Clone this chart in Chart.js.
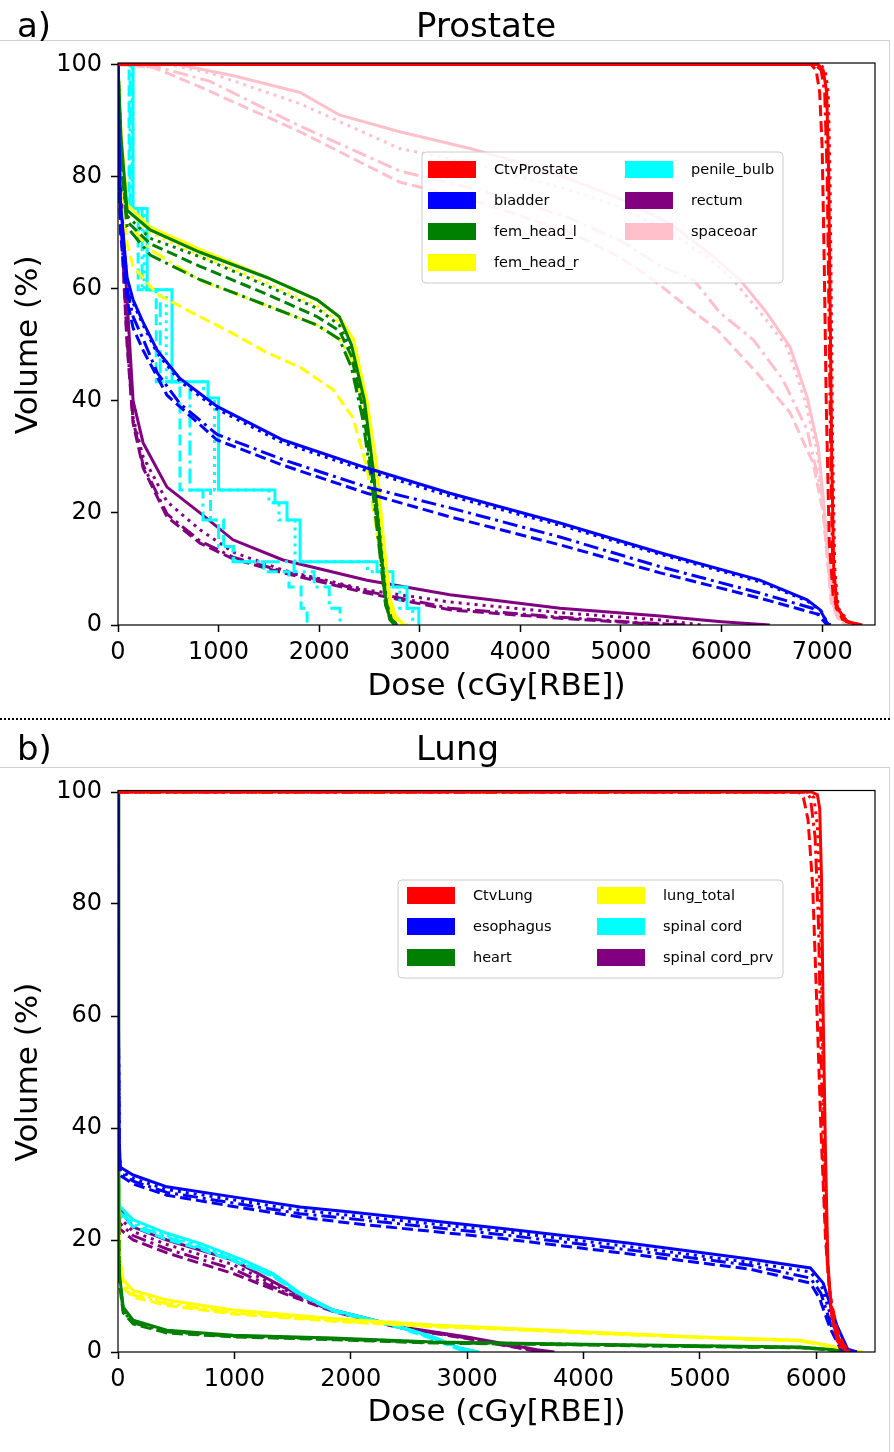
<!DOCTYPE html>
<html>
<head>
<meta charset="utf-8">
<script src="https://cdn.jsdelivr.net/npm/chart.js@4.4.1/dist/chart.umd.min.js"></script>
<style>
  html, body { margin: 0; padding: 0; background: #fff; }
  body { width: 894px; height: 1452px; position: relative; overflow: hidden; }
  canvas { position: absolute; left: 0; }
  #prostateChart { top: 0; }
  #lungChart { top: 718px; }
  .rule { position: absolute; background: #d2d2d2; }
  #sep { position: absolute; left: 0; top: 718px; width: 890px; height: 2px;
         background: repeating-linear-gradient(to right, #000 0 2px, transparent 2px 4px); }
</style>
</head>
<body>
<div class="rule" style="left:0;top:40px;width:889px;height:1px"></div>
<div class="rule" style="left:889px;top:40px;width:1px;height:678px"></div>
<div class="rule" style="left:0;top:767px;width:889px;height:1px"></div>
<div class="rule" style="left:889px;top:767px;width:1px;height:685px"></div>
<div id="sep"></div>
<canvas id="prostateChart" width="894" height="718"></canvas>
<canvas id="lungChart" width="894" height="734"></canvas>
<script>
// DVH curves: [dose cGy, volume %], four variants per structure
const lineStyles = ['solid', 'dotted', 'dashed', 'dashdot'];

// ---- Prostate ----
const prostateNames = ['CtvProstate', 'bladder', 'fem_head_l', 'fem_head_r', 'penile_bulb', 'rectum', 'spaceoar'];
const prostateColors = ['#ff0000', '#0000ff', '#008000', '#ffff00', '#00ffff', '#800080', '#ffc0cb'];
const prostateDoseTicks = [0, 1000, 2000, 3000, 4000, 5000, 6000, 7000];
const volumeTicks = [0, 20, 40, 60, 80, 100];

const prostateCtv = [
  [[0,100],[6960,100],[7010,99],[7045,95],[7065,80],[7080,55],[7095,30],[7115,10],[7150,3],[7250,0.6],[7400,0]],
  [[0,100],[6980,100],[7030,99],[7060,95],[7078,80],[7092,55],[7105,30],[7125,10],[7160,3],[7260,0.6],[7380,0]],
  [[0,100],[6890,100],[6940,99],[6975,95],[7000,85],[7020,65],[7040,40],[7070,15],[7110,5],[7200,1],[7350,0]],
  [[0,100],[6930,100],[6990,99],[7025,95],[7050,80],[7068,55],[7085,30],[7105,10],[7140,3],[7240,0.6],[7360,0]]
];
const prostateBladder = [
  [[0,100],[10,85],[25,75],[90,62],[150,58],[250,54],[390,49],[615,44],[985,39],[1640,33],[2475,28],[3300,23.5],[4394,18.2],[5390,12.9],[6380,8],[6850,4.5],[6980,2.7],[7030,1],[7060,0]],
  [[0,100],[10,84],[25,74],[90,61.5],[150,57.5],[250,53.5],[390,48.5],[615,43.5],[985,38.5],[1640,32.5],[2475,27.5],[3300,23],[4394,17.8],[5390,12.6],[6380,7.7],[6850,4.3],[6990,2.5],[7040,0.8],[7080,0]],
  [[0,100],[10,82],[25,70],[90,58],[150,53],[250,49],[487,41],[985,33],[1640,28.5],[2475,23.5],[3300,19.3],[4394,14.3],[5390,9.3],[6380,4.8],[6980,1.8],[7050,0.3],[7080,0]],
  [[0,100],[10,83],[25,72],[90,60],[150,55],[250,51],[390,45],[615,39.5],[985,34],[1640,29.5],[2475,24.6],[3300,20.9],[4394,15.7],[5390,10.4],[6380,5.7],[6900,3],[7000,1],[7050,0]]
];
const prostateFemL = [
  [[0,100],[30,87],[90,74],[320,70.5],[815,66.5],[1480,62],[1980,58],[2200,55],[2320,50],[2450,40],[2535,28],[2600,16],[2660,5],[2700,1],[2750,0]],
  [[0,100],[30,85],[90,73],[320,69],[815,65.7],[1480,60.5],[1980,56.5],[2200,53.5],[2320,49],[2450,39],[2540,27],[2610,15],[2670,4],[2720,1],[2780,0]],
  [[0,100],[30,84],[90,72],[320,68],[815,64],[1480,59],[1980,55],[2200,52.5],[2320,48],[2440,38],[2530,26],[2600,14],[2660,4],[2720,1],[2780,0]],
  [[0,100],[30,83],[90,71],[320,66],[815,61.6],[1480,57],[1980,53.5],[2200,51],[2320,46],[2430,37],[2525,25],[2595,14],[2660,3.5],[2720,0.5],[2780,0]]
];
const prostateFemR = [
  [[0,100],[30,88],[90,75],[320,71],[815,67],[1480,62],[1980,58],[2200,55],[2340,51],[2475,40],[2575,28],[2635,16],[2700,5],[2760,1.5],[2850,0]],
  [[0,100],[30,86],[90,74],[320,70],[815,66],[1480,61],[1980,57],[2200,54],[2340,50],[2470,40],[2570,28],[2630,16],[2700,5],[2770,1],[2880,0]],
  [[0,100],[30,80],[90,68],[150,64],[390,59],[815,55],[1143,52],[1480,48.6],[1810,46],[2137,42],[2336,37],[2475,28],[2575,16.4],[2674,4.5],[2750,0.8],[2850,0]],
  [[0,100],[30,84],[90,72],[320,67],[815,61.5],[1480,57],[1980,53.5],[2200,51],[2340,47],[2450,38],[2560,26],[2620,15],[2690,4],[2760,1],[2850,0]]
];
// penile bulb is a stepped DVH: [dose where volume drops, new volume]
const prostatePenile = [
  [[0,100],[150,74.3],[290,59.8],[537,43.4],[895,40.5],[1000,24.1],[1560,21.8],[1680,18.75],[1810,11.3],[2575,9.5],[2733,6.8],[2873,3],[2990,0]],
  [[0,100],[140,74.3],[260,59.8],[480,43.4],[850,40.5],[960,24.1],[1500,21.8],[1600,18.75],[1760,11.3],[2480,9.5],[2650,6.8],[2800,3],[2930,0]],
  [[0,100],[110,74.3],[200,59.8],[380,43.4],[616,24.1],[920,18.75],[1050,14],[1143,11.3],[1450,9.5],[1700,6.8],[1820,3],[1880,0]],
  [[0,100],[120,74.3],[240,59.8],[420,43.4],[715,24.1],[845,18.75],[1000,14],[1150,11.3],[1750,9.5],[1950,6.8],[2100,3],[2207,0]]
];
const prostateRectum = [
  [[0,100],[20,80],[90,58],[150,40],[250,32.5],[487,24.6],[815,20],[1143,15.2],[1640,11.6],[2475,8],[3300,5.4],[4394,3],[5390,1.6],[5620,1.2],[6000,0.6],[6480,0]],
  [[0,100],[20,78],[90,55],[150,37],[250,30],[487,22],[815,17],[1143,13],[1640,9.8],[2475,6.25],[3300,4.1],[4394,2.2],[5390,0.9],[5800,0]],
  [[0,100],[20,75],[90,50],[150,36],[250,28],[487,19.3],[815,14.6],[1143,11.8],[1640,9.3],[2475,5.7],[3300,2.7],[4394,1.2],[5200,0.3],[5600,0]],
  [[0,100],[20,76],[90,51],[150,36.5],[250,28.5],[487,19.8],[815,15],[1143,12.1],[1640,9.6],[2475,6],[3300,3],[4394,1.4],[5200,0.4],[5650,0]]
];
const prostateSpaceoar = [
  [[0,100],[600,100],[1150,98],[1810,95],[2200,91],[2800,88],[3500,85],[4000,82.5],[4500,79.5],[5000,76],[5500,71.5],[5900,66],[6183,61.6],[6450,55.7],[6680,49.6],[6850,40.7],[6960,31.8],[7010,22.9],[7050,14],[7110,5],[7180,1.4],[7260,0]],
  [[0,100],[500,100],[915,98.5],[1810,93],[2800,85],[3500,82.5],[4000,80],[4500,77.5],[5000,74.5],[5500,70],[5900,65],[6113,61.6],[6420,55],[6650,49.6],[6830,40],[6950,31],[7005,22],[7045,13],[7100,4.5],[7170,1.2],[7250,0]],
  [[0,100],[350,99.5],[815,96],[1810,88],[2800,79],[3500,76],[4000,73],[4500,70],[5000,65.5],[5320,61.6],[5655,56.8],[5955,52.7],[6350,45],[6680,37.9],[6910,28.9],[7010,20],[7045,13],[7090,4],[7160,1],[7240,0]],
  [[0,100],[400,99.5],[915,97],[1810,89],[2800,81],[3500,78],[4000,75.5],[4500,72.5],[5000,68.5],[5400,64],[5720,61.6],[5985,55.7],[6315,50.9],[6610,43.75],[6850,34.8],[7000,23],[7050,13],[7100,4],[7170,1],[7250,0]]
];

// ---- Lung ----
const lungNames = ['CtvLung', 'esophagus', 'heart', 'lung_total', 'spinal cord', 'spinal cord_prv'];
const lungColors = ['#ff0000', '#0000ff', '#008000', '#ffff00', '#00ffff', '#800080'];
const lungDoseTicks = [0, 1000, 2000, 3000, 4000, 5000, 6000];

const lungCtv = [
  [[0,100],[5960,100],[6010,99.5],[6030,97],[6045,85],[6060,60],[6080,35],[6100,16],[6130,7],[6180,2],[6260,0]],
  [[0,100],[5930,100],[5980,99],[6010,94],[6035,80],[6055,55],[6075,32],[6100,15],[6140,5],[6200,1],[6280,0]],
  [[0,100],[5850,100],[5890,99],[5930,95],[5970,83],[6000,65],[6040,40],[6080,20],[6120,10],[6180,4],[6230,1.5],[6290,0]],
  [[0,100],[5900,100],[5950,99],[5990,92],[6020,76],[6045,50],[6070,28],[6100,14],[6150,5],[6210,1.5],[6290,0]]
];
const lungEsophagus = [
  [[0,100],[4,60],[10,38],[20,33],[130,31.6],[420,29.5],[990,27.7],[1565,25.9],[2000,25],[3285,22.1],[4400,19.4],[5430,16.6],[5950,15],[6060,12.3],[6180,4.6],[6270,0.5],[6350,0]],
  [[0,100],[4,58],[10,37],[20,32.5],[130,31],[420,29],[990,27.2],[1565,25.3],[2000,24.4],[3285,21.6],[4400,18.8],[5430,16],[5950,14.3],[6050,11.5],[6160,4],[6250,0.5],[6330,0]],
  [[0,100],[4,55],[10,35],[20,31.5],[130,30],[420,28],[990,26],[1565,24.1],[2000,23],[3285,20.3],[4400,17.5],[5430,14.8],[5950,12.3],[6030,9.5],[6120,4.2],[6210,0.5],[6290,0]],
  [[0,100],[4,57],[10,36],[20,32],[130,30.5],[420,28.5],[990,26.6],[1565,24.7],[2000,23.8],[3285,21],[4400,18.2],[5430,15.5],[5950,13.2],[6040,10.5],[6140,4],[6230,0.5],[6300,0]]
];
const lungHeart = [
  [[0,100],[3,40],[8,18],[15,13.4],[45,8],[130,5.7],[420,3.9],[990,3],[1850,2.5],[2710,1.8],[4000,1.4],[5000,1.1],[5860,0.9],[6100,0.5],[6250,0.1],[6350,0]],
  [[0,100],[3,38],[8,17],[15,12.8],[45,7.6],[130,5.4],[420,3.7],[990,2.9],[1850,2.4],[2710,1.75],[4000,1.35],[5000,1.05],[5860,0.85],[6100,0.45],[6250,0.1],[6340,0]],
  [[0,100],[3,35],[8,15],[15,11.8],[45,7],[130,5],[420,3.4],[990,2.7],[1850,2.2],[2710,1.6],[4000,1.25],[5000,0.95],[5860,0.75],[6100,0.4],[6250,0.1],[6320,0]],
  [[0,100],[3,36],[8,16],[15,12.3],[45,7.3],[130,5.2],[420,3.6],[990,2.8],[1850,2.3],[2710,1.7],[4000,1.3],[5000,1],[5860,0.8],[6100,0.4],[6250,0.1],[6330,0]]
];
const lungTotal = [
  [[0,100],[3,50],[8,22],[15,17],[45,12.9],[130,11],[420,9.3],[990,7.5],[1850,6],[2710,4.8],[3285,4.3],[4000,3.6],[5000,2.7],[5860,2.1],[6100,1.2],[6250,0.3],[6400,0]],
  [[0,100],[3,48],[8,21],[15,16.3],[45,12.4],[130,10.6],[420,8.9],[990,7.2],[1850,5.8],[2710,4.7],[3285,4.2],[4000,3.5],[5000,2.65],[5860,2.05],[6100,1.15],[6250,0.3],[6390,0]],
  [[0,100],[3,45],[8,20],[15,15],[45,11.5],[130,9.8],[420,8.3],[990,6.8],[1850,5.5],[2710,4.5],[3285,4.1],[4000,3.4],[5000,2.6],[5860,2],[6100,1.1],[6250,0.3],[6380,0]],
  [[0,100],[3,46],[8,20.5],[15,15.8],[45,12],[130,10.2],[420,8.6],[990,7],[1850,5.65],[2710,4.6],[3285,4.15],[4000,3.45],[5000,2.6],[5860,2],[6100,1.1],[6250,0.3],[6380,0]]
];
const lungCord = [
  [[0,100],[3,45],[8,30],[15,26],[130,23.6],[420,21.2],[705,19.4],[1075,16.4],[1333,14],[1565,10.5],[1850,7.5],[2425,4.5],[2710,2.7],[2940,0.7],[3100,0]],
  [[0,100],[3,44],[8,29.5],[15,25.6],[130,23.2],[420,20.8],[705,19],[1075,16.1],[1333,13.8],[1565,10.4],[1850,7.4],[2425,4.45],[2710,2.6],[2940,0.6],[3090,0]],
  [[0,100],[3,42],[8,28],[15,24.5],[130,22.4],[420,20.1],[705,18.4],[1075,15.6],[1333,13.5],[1565,10.2],[1850,7.3],[2425,4.3],[2710,2.3],[2940,0.4],[3050,0]],
  [[0,100],[3,43],[8,29],[15,25],[130,22.8],[420,20.5],[705,18.7],[1075,15.8],[1333,13.6],[1565,10.3],[1850,7.35],[2425,4.4],[2710,2.45],[2940,0.5],[3070,0]]
];
const lungCordPrv = [
  [[0,100],[3,45],[8,30],[15,25.4],[130,22.3],[420,20],[990,16.4],[1420,11.6],[1850,7.5],[2425,4.5],[3000,2.7],[3285,1.6],[3600,0.4],[3750,0]],
  [[0,100],[3,43],[8,28],[15,24],[130,21.5],[420,19.2],[990,15.6],[1420,11.2],[1850,7.4],[2425,4.4],[3000,2.6],[3285,1.5],[3580,0.35],[3720,0]],
  [[0,100],[3,40],[8,26],[15,22],[130,20],[420,17.7],[990,14],[1420,10.5],[1850,7.2],[2425,4.3],[3000,2.4],[3285,1.3],[3550,0.3],[3700,0]],
  [[0,100],[3,41],[8,27],[15,23],[130,20.8],[420,18.4],[990,14.8],[1420,10.8],[1850,7.3],[2425,4.35],[3000,2.5],[3285,1.4],[3560,0.3],[3710,0]]
];

const prostateCurves = [prostateCtv, prostateBladder, prostateFemL, prostateFemR, prostatePenile, prostateRectum, prostateSpaceoar];
const lungCurves = [lungCtv, lungEsophagus, lungHeart, lungTotal, lungCord, lungCordPrv];

const dashes = { solid: [], dotted: [3, 5], dashed: [11, 5], dashdot: [15, 5, 3, 5] };

Chart.defaults.font.family = "'DejaVu Sans', sans-serif";
Chart.defaults.color = '#000';

function buildDatasets(names, colors, curves, steppedName) {
  const sets = [];
  names.forEach((name, i) => {
    curves[i].forEach((pts, k) => {
      sets.push({
        label: name + ' ' + lineStyles[k],
        data: pts.map(p => ({ x: p[0], y: p[1] })),
        showLine: true,
        borderColor: colors[i],
        backgroundColor: colors[i],
        borderWidth: 3,
        borderDash: dashes[lineStyles[k]],
        pointRadius: 0,
        fill: false,
        tension: 0,
        clip: { left: 0, top: 1.5, right: 0, bottom: 0 },
        stepped: name === steppedName
      });
    });
  });
  return sets;
}

// frame, legend box and panel labels drawn on top of the lines
const decorations = {
  id: 'decorations',
  afterDatasetsDraw(chart, args, opts) {
    const ctx = chart.ctx;
    const a = chart.chartArea;
    ctx.save();
    ctx.strokeStyle = '#000';
    ctx.lineWidth = 1.2;
    ctx.strokeRect(a.left, a.top - 1.5, a.right - a.left, a.bottom - a.top + 1.5);

    const lg = opts.legend;
    ctx.beginPath();
    ctx.roundRect(lg.x, lg.y, lg.w, lg.h, 4);
    ctx.fillStyle = 'rgba(255,255,255,0.8)';
    ctx.fill();
    ctx.strokeStyle = '#cccccc';
    ctx.lineWidth = 1;
    ctx.stroke();
    ctx.font = "14.5px 'DejaVu Sans'";
    ctx.textBaseline = 'middle';
    ctx.textAlign = 'left';
    lg.names.forEach((name, i) => {
      const col = Math.floor(i / lg.rows), row = i % lg.rows;
      const px = lg.x + lg.padX + col * lg.colW;
      const py = lg.y + lg.padY + row * 31;
      ctx.fillStyle = lg.colors[i];
      ctx.fillRect(px, py, 48, 17);
      ctx.fillStyle = '#000';
      ctx.fillText(name, px + 66, py + 9);
    });

    ctx.font = "34px 'DejaVu Sans'";
    ctx.textBaseline = 'alphabetic';
    ctx.fillStyle = '#000';
    ctx.fillText(opts.tag, 17, opts.baseline);
    ctx.fillText(opts.title, 416, opts.baseline);
    ctx.restore();
  }
};

function makeChart(id, cfg) {
  return new Chart(document.getElementById(id), {
    type: 'scatter',
    data: { datasets: buildDatasets(cfg.names, cfg.colors, cfg.curves, cfg.stepped) },
    options: {
      responsive: false,
      animation: false,
      devicePixelRatio: 1,
      layout: { padding: cfg.padding },
      plugins: {
        legend: { display: false },
        tooltip: { enabled: false },
        decorations: cfg.decor
      },
      scales: {
        x: {
          type: 'linear', min: 0, max: cfg.xMax,
          afterBuildTicks: ax => { ax.ticks = cfg.xTicks.map(v => ({ value: v })); },
          afterFit: ax => { ax.height = cfg.xAxisHeight; },
          border: { display: false },
          grid: { drawOnChartArea: false, drawTicks: true, tickLength: 7, tickWidth: 1.5, tickColor: '#000' },
          ticks: { font: { size: 24 }, color: '#000', padding: 6, maxRotation: 0, autoSkip: false,
                   callback: v => String(v) },
          title: { display: true, text: 'Dose (cGy[RBE])', font: { size: 31 }, color: '#000', padding: 0 }
        },
        y: {
          type: 'linear', min: 0, max: 100,
          afterBuildTicks: ax => { ax.ticks = volumeTicks.map(v => ({ value: v })); },
          afterFit: ax => { ax.width = 108; },
          border: { display: false },
          grid: { drawOnChartArea: false, drawTicks: true, tickLength: 7, tickWidth: 1.5, tickColor: '#000' },
          ticks: { font: { size: 24 }, color: '#000', padding: 9, callback: v => String(v) },
          title: { display: true, text: 'Volume (%)', font: { size: 31 }, color: '#000', padding: 0 }
        }
      }
    },
    plugins: [decorations]
  });
}

makeChart('prostateChart', {
  names: prostateNames, colors: prostateColors, curves: prostateCurves, stepped: 'penile_bulb',
  xMax: 7525, xTicks: prostateDoseTicks, xAxisHeight: 80.6,
  padding: { left: 10, right: 19, top: 64.5, bottom: 12.4 },
  decor: {
    tag: 'a)', title: 'Prostate', baseline: 37,
    legend: { x: 422, y: 152, w: 361, h: 131, padX: 6, padY: 9, colW: 197, rows: 4, names: prostateNames, colors: prostateColors }
  }
});

makeChart('lungChart', {
  names: lungNames, colors: lungColors, curves: lungCurves, stepped: null,
  xMax: 6505, xTicks: lungDoseTicks, xAxisHeight: 80,
  padding: { left: 10, right: 19, top: 74, bottom: 20 },
  decor: {
    tag: 'b)', title: 'Lung', baseline: 42,
    legend: { x: 398, y: 162, w: 385, h: 98, padX: 9, padY: 7, colW: 190, rows: 3, names: lungNames, colors: lungColors }
  }
});
</script>
</body>
</html>
